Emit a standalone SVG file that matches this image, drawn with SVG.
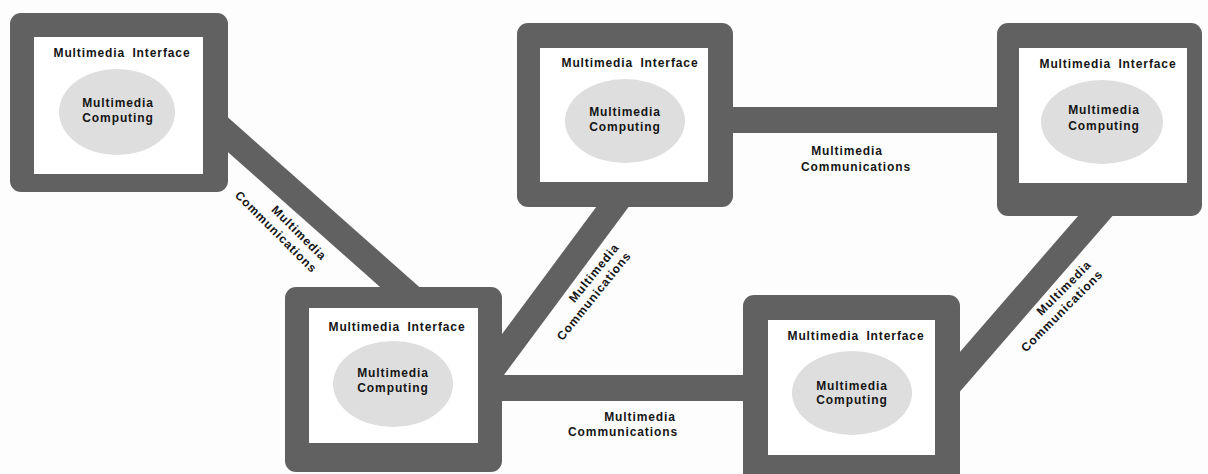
<svg xmlns="http://www.w3.org/2000/svg" width="1208" height="474" viewBox="0 0 1208 474">
<style>
.bg{fill:#fdfdfd}
.frame{fill:#616161}
.inner{fill:#ffffff}
.core{fill:#dedede}
.link{stroke:#616161;stroke-width:26;fill:none;stroke-linecap:butt}
text{font-family:"Liberation Sans",Arial,sans-serif;font-weight:bold;font-size:12px;fill:#151515;letter-spacing:0.9px;text-anchor:middle}
.t{word-spacing:3px}
</style>
<rect class="bg" x="0" y="0" width="1208" height="474"/>
<g id="connectors">
<line class="link" x1="200" y1="110" x2="420" y2="305"/>
<line class="link" x1="490" y1="372" x2="625" y2="190"/>
<line class="link" x1="720" y1="120" x2="1010" y2="120"/>
<line class="link" x1="490" y1="388" x2="755" y2="388"/>
<line class="link" x1="945" y1="389" x2="1110" y2="199"/>
</g>
<g id="labels">
<text transform="translate(299,233) rotate(45)" y="4">Multimedia</text>
<text transform="translate(276,232) rotate(45)" y="4">Communications</text>
<text transform="translate(594,273) rotate(-51)" y="4">Multimedia</text>
<text transform="translate(594,296) rotate(-51)" y="4">Communications</text>
<text transform="translate(1064,288) rotate(-45)" y="4">Multimedia</text>
<text transform="translate(1062,311) rotate(-45)" y="4">Communications</text>
<text x="847" y="155">Multimedia</text>
<text x="856" y="171">Communications</text>
<text x="640" y="421">Multimedia</text>
<text x="623" y="436">Communications</text>
</g>
<g id="node1">
<rect class="frame" x="10" y="13" width="218" height="179" rx="11"/>
<rect class="inner" x="34" y="37" width="169" height="137"/>
<text class="t" x="122" y="57">Multimedia Interface</text>
<ellipse class="core" cx="117" cy="112" rx="58" ry="43"/>
<text x="118" y="107">Multimedia</text>
<text x="118" y="122">Computing</text>
</g>
<g id="node2">
<rect class="frame" x="517" y="23" width="216" height="184" rx="11"/>
<rect class="inner" x="540" y="48" width="168" height="134"/>
<text class="t" x="630" y="67">Multimedia Interface</text>
<ellipse class="core" cx="625" cy="121" rx="60" ry="42"/>
<text x="625" y="116">Multimedia</text>
<text x="625" y="131">Computing</text>
</g>
<g id="node3">
<rect class="frame" x="997" y="23" width="205" height="193" rx="11"/>
<rect class="inner" x="1019" y="48" width="168" height="135"/>
<text class="t" x="1108" y="68">Multimedia Interface</text>
<ellipse class="core" cx="1102" cy="122" rx="61" ry="42"/>
<text x="1104" y="114">Multimedia</text>
<text x="1104" y="130">Computing</text>
</g>
<g id="node4">
<rect class="frame" x="285" y="287" width="217" height="185" rx="11"/>
<rect class="inner" x="309" y="308" width="169" height="135"/>
<text class="t" x="397" y="331">Multimedia Interface</text>
<ellipse class="core" cx="393" cy="384" rx="60" ry="43"/>
<text x="393" y="377">Multimedia</text>
<text x="393" y="392">Computing</text>
</g>
<g id="node5">
<rect class="frame" x="743" y="295" width="217" height="190" rx="11"/>
<rect class="inner" x="768" y="320" width="167" height="135"/>
<text class="t" x="856" y="340">Multimedia Interface</text>
<ellipse class="core" cx="852" cy="393" rx="60" ry="42"/>
<text x="852" y="390">Multimedia</text>
<text x="852" y="404">Computing</text>
</g>
</svg>
